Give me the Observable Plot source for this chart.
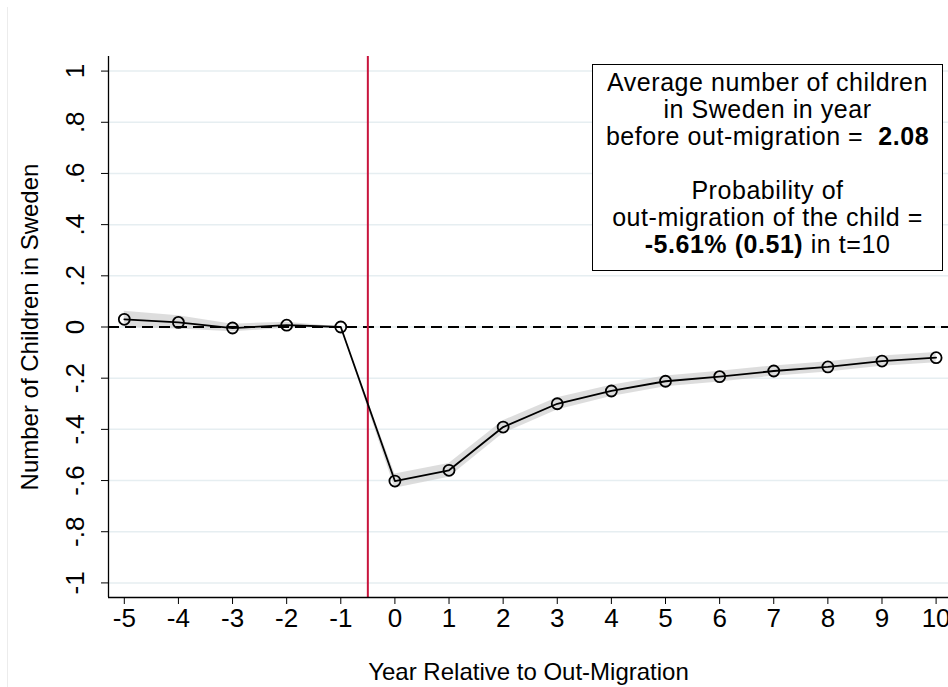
<!DOCTYPE html>
<html>
<head>
<meta charset="utf-8">
<script src="https://cdn.jsdelivr.net/npm/d3@7"></script>
<script src="https://cdn.jsdelivr.net/npm/@observablehq/plot@0.6"></script>
<style>
  html, body { margin: 0; padding: 0; background: #fff; overflow: hidden; }
  #wrap { position: relative; width: 948px; height: 687px; font-family: "Liberation Sans", Arial, sans-serif; }
  #outer { position: absolute; left: 7px; top: 7px; width: 960px; height: 700px; border-left: 1px solid #ececec; }
  #note {
    position: absolute; left: 592px; top: 64px; width: 349px; height: 201px;
    border: 1px solid #000; background: #fff; box-sizing: content-box;
    text-align: center; font-size: 25px; line-height: 27px; color: #000;
    letter-spacing: 0.55px; padding-top: 4px;
  }
  #note div { height: 27px; white-space: nowrap; }
</style>
</head>
<body>
<div id="wrap">
  <div id="outer"></div>
  <div id="chart"></div>
  <div id="note"></div>
</div>
<script>
// ---- data ----
const years = [-5, -4, -3, -2, -1, 0, 1, 2, 3, 4, 5, 6, 7, 8, 9, 10];
const coef  = [0.030, 0.018, -0.004, 0.007, 0.000, -0.602, -0.560, -0.391, -0.300, -0.250, -0.212, -0.194, -0.172, -0.156, -0.133, -0.120];
const ciLow = [-0.002, -0.008, -0.019, -0.005, 0.000, -0.630, -0.587, -0.416, -0.324, -0.272, -0.233, -0.215, -0.192, -0.176, -0.153, -0.140];
const ciHigh = [0.062, 0.044, 0.011, 0.019, 0.000, -0.574, -0.533, -0.366, -0.276, -0.228, -0.191, -0.173, -0.152, -0.136, -0.113, -0.100];
const xTicks = [-5, -4, -3, -2, -1, 0, 1, 2, 3, 4, 5, 6, 7, 8, 9, 10];
const xTickLabels = ["-5", "-4", "-3", "-2", "-1", "0", "1", "2", "3", "4", "5", "6", "7", "8", "9", "10"];
const yTicks = [-1, -0.8, -0.6, -0.4, -0.2, 0, 0.2, 0.4, 0.6, 0.8, 1];
const yTickLabels = ["-1", "-.8", "-.6", "-.4", "-.2", "0", ".2", ".4", ".6", ".8", "1"];
const eventLine = [-0.5];
const refLine = [0];
const xTitle = "Year Relative to Out-Migration";
const yTitle = "Number of Children in Sweden";
const noteLines = [
  ["Average number of children"],
  ["in Sweden in year"],
  ["before out-migration =  ", "2.08"],
  [""],
  ["Probability of"],
  ["out-migration of the child ="],
  ["", "-5.61% (0.51)", " in t=10"]
];

// ---- table ----
const rows = years.map((t, i) => ({t, b: coef[i], lo: ciLow[i], hi: ciHigh[i]}));
const xDomain = [-5.292, 10.229];
const yDomain = [-1.057, 1.057];
const FONT = "'Liberation Sans', Arial, sans-serif";

const chart = Plot.plot({
  width: 948,
  height: 687,
  marginLeft: 108,
  marginRight: 0,
  marginTop: 56,
  marginBottom: 90,
  x: {domain: xDomain},
  y: {domain: yDomain},
  style: {fontFamily: FONT, background: "transparent", overflow: "visible", color: "#000"},
  marks: [
    Plot.gridY(yTicks, {stroke: "#e6eef1", strokeOpacity: 1, strokeWidth: 1.5}),
    Plot.areaY(rows, {x: "t", y1: "lo", y2: "hi", fill: "#cfcfcf", fillOpacity: 0.7}),
    Plot.ruleY(refLine, {stroke: "#000", strokeWidth: 2.2, strokeDasharray: "11,6"}),
    Plot.ruleX(eventLine, {stroke: "#c8143c", strokeWidth: 2}),
    Plot.lineY(rows, {x: "t", y: "b", stroke: "#000", strokeWidth: 1.8}),
    Plot.dot(rows, {x: "t", y: "b", r: 5.5, stroke: "#000", strokeWidth: 1.8, fill: "none"}),
    // axis lines
    Plot.ruleX([xDomain[0]], {stroke: "#000", strokeWidth: 1.3}),
    Plot.ruleY([yDomain[0]], {stroke: "#000", strokeWidth: 1.3}),
    // x axis
    Plot.axisX(xTicks, {tickSize: 7, tickPadding: 4, fontSize: 26, tickFormat: (d) => xTickLabels[xTicks.indexOf(d)], label: null, stroke: "#000"}),
    // y axis ticks
    Plot.axisY(yTicks, {tickSize: 7, tickFormat: () => "", label: null, stroke: "#000"}),
    Plot.text(yTicks, {y: d => d, text: (d, i) => yTickLabels[i], frameAnchor: "left", dx: -33, rotate: -90, textAnchor: "middle", lineAnchor: "middle", fontSize: 26, fill: "#000"}),
    // titles
    Plot.text([yTitle], {text: d => d, frameAnchor: "left", dx: -78, rotate: -90, textAnchor: "middle", lineAnchor: "middle", fontSize: 24, fill: "#000"}),
    Plot.text([xTitle], {text: d => d, frameAnchor: "bottom", dy: 75, textAnchor: "middle", lineAnchor: "middle", fontSize: 24, fill: "#000"})
  ]
});
document.getElementById("chart").appendChild(chart);

// ---- note box ----
const note = document.getElementById("note");
noteLines.forEach(parts => {
  const div = document.createElement("div");
  parts.forEach((p, j) => {
    const span = document.createElement("span");
    span.textContent = p;
    if (parts.length > 1 && j === 1) span.style.fontWeight = "bold";
    span.style.whiteSpace = "pre";
    div.appendChild(span);
  });
  if (parts.length === 1 && parts[0] === "") div.innerHTML = "&nbsp;";
  note.appendChild(div);
});
</script>
</body>
</html>
